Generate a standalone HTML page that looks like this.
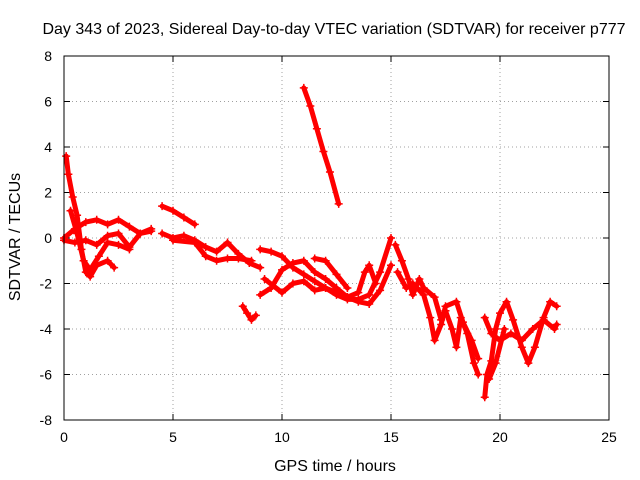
<!DOCTYPE html>
<html><head><meta charset="utf-8"><style>
body{margin:0;background:#fff}
svg{display:block;font-family:"Liberation Sans",sans-serif;font-size:14px}
.big{font-size:16px}
</style></head><body>
<svg id="chart" width="640" height="480">
<text class="big" x="334" y="34" text-anchor="middle">Day 343 of 2023, Sidereal Day-to-day VTEC variation (SDTVAR) for receiver p777</text>
<text class="big" x="335" y="471" text-anchor="middle">GPS time / hours</text>
<text class="big" transform="translate(20,237) rotate(-90)" text-anchor="middle">SDTVAR / TECUs</text>
<g id="grid"></g><g id="ticks"></g><g id="marks"></g>
<rect x="64" y="56" width="545" height="364" fill="none" stroke="#000"/>
</svg>
<script>
const xTicks=[0,5,10,15,20,25];
const yTicks=[-8,-6,-4,-2,0,2,4,6,8];
const traceSteep=[[11.0,6.6],[11.3,5.8],[11.6,4.8],[11.9,3.8],[12.2,2.9],[12.6,1.5]];
const traceShort=[[4.5,1.4],[5,1.2],[5.5,0.9],[6,0.6]];
const traceDip=[[8.2,-3.0],[8.4,-3.3],[8.6,-3.6],[8.8,-3.4]];
const traceSpike=[[0.1,3.6],[0.2,2.8],[0.4,1.8],[0.6,1.0],[0.8,-0.5],[1.0,-1.5],[1.2,-1.7],[1.5,-1.2],[2.0,-1.0],[2.3,-1.3]];
const traceA=[[0,0],[0.5,0.4],[1.0,0.7],[1.5,0.8],[2.0,0.6],[2.5,0.8],[3.0,0.5],[3.5,0.2],[4.0,0.4]];
const traceB=[[0,-0.1],[0.5,-0.2],[1,-0.1],[1.5,-0.3],[2,0.1],[2.5,0.2],[3,-0.4],[3.5,0.2],[4,0.3]];
const traceC=[[0.3,1.2],[0.6,0.2],[0.9,-1.0],[1.2,-1.4],[1.6,-0.8],[2.0,-0.2],[2.5,-0.3],[3,-0.5]];
const traceD=[[4.5,0.2],[5,0],[5.5,0.1],[6,-0.1],[6.5,-0.4],[7,-0.6],[7.5,-0.2],[8,-0.7],[8.5,-1.1],[9,-1.3]];
const traceE=[[5,-0.1],[6,-0.2],[6.5,-0.8],[7,-1.0],[7.5,-0.9],[8,-0.9],[8.6,-1.0]];
const traceF=[[9,-0.5],[9.5,-0.6],[10,-0.8],[10.5,-1.3],[11,-1.6],[11.5,-1.9],[12,-2.2],[12.5,-2.5],[13,-2.7],[13.5,-2.7],[14,-2.5],[14.5,-1.5],[15,0]];
const traceG=[[9,-2.5],[9.5,-2.2],[10,-1.4],[10.5,-1.1],[11,-1.0],[11.5,-1.5],[12,-1.8],[12.5,-2.2],[13,-2.6],[13.5,-2.4],[13.8,-1.5],[14,-1.2],[14.3,-2.0]];
const traceH=[[9.2,-1.8],[10,-2.4],[10.5,-2.0],[11,-1.9],[11.5,-2.3],[12,-2.2],[12.5,-2.4],[13,-2.6],[13.5,-2.8],[14,-2.9],[14.5,-2.3],[15,-1.2]];
const traceI=[[11.5,-0.9],[12,-1.0],[12.5,-1.6],[13,-2.2]];
const traceJ=[[15.2,-0.3],[15.5,-1.0],[15.8,-1.8],[16,-2.5],[16.3,-1.8],[16.5,-2.2],[17,-2.6],[17.3,-3.6],[17.5,-3.2],[17.8,-4.0],[18.0,-4.8],[18.2,-3.5],[18.5,-4.2],[18.8,-5.5],[19.0,-6.0]];
const traceK=[[15.3,-1.5],[15.7,-2.2],[16,-2.0],[16.5,-2.5],[16.8,-3.5],[17,-4.5],[17.3,-3.8],[17.5,-3.0],[18,-2.8],[18.3,-3.7],[18.7,-4.5],[19.0,-5.3]];
const traceL=[[19.3,-7.0],[19.4,-6.0],[19.6,-5.4],[19.8,-4.0],[20,-3.3],[20.3,-2.8],[20.6,-3.6],[21,-4.8],[21.3,-5.5],[21.6,-4.8],[22,-3.5],[22.3,-2.8],[22.6,-3.0]];
const traceM=[[19.3,-3.5],[19.6,-4.2],[20,-4.5],[20.5,-4.2],[21,-4.5],[21.5,-4.0],[22,-3.6],[22.5,-4.0],[22.6,-3.8]];
const traceN=[[19.5,-6.2],[19.8,-5.5],[20.2,-4.0]];
const traces=[traceSteep,traceShort,traceDip,traceSpike,traceA,traceB,traceC,traceD,traceE,traceF,traceG,traceH,traceI,traceJ,traceK,traceL,traceM,traceN];
const NS="http://www.w3.org/2000/svg";
const X0=64,X1=609,Y0=420,Y1=56;
function sx(v){return X0+(v-0)/(25-0)*(X1-X0);}
function sy(v){return Y0-(v+8)/16*(Y0-Y1);}
const grid=document.getElementById('grid'),ticks=document.getElementById('ticks'),marks=document.getElementById('marks');
function mk(tag,attrs,parent){const e=document.createElementNS(NS,tag);for(const k in attrs)e.setAttribute(k,attrs[k]);parent.appendChild(e);return e;}
xTicks.forEach(t=>{const x=sx(t);
 if(t>0&&t<25){const g=mk('line',{x1:x,x2:x,y1:Y1,y2:Y0,stroke:'#a0a0a0','stroke-dasharray':'1,3'},grid);
 
 }
 mk('line',{x1:x,x2:x,y1:Y0,y2:Y0-6,stroke:'#000'},ticks);
 mk('line',{x1:x,x2:x,y1:Y1,y2:Y1+6,stroke:'#000'},ticks);
 const l=mk('text',{x:x,y:Y0+22,'text-anchor':'middle'},ticks);l.textContent=t;
 
 });
yTicks.forEach(t=>{const y=sy(t);
 if(t>-8&&t<8){const g=mk('line',{x1:X0,x2:X1,y1:y,y2:y,stroke:'#a0a0a0','stroke-dasharray':'1,3'},grid);
 
 }
 mk('line',{x1:X0,x2:X0+6,y1:y,y2:y,stroke:'#000'},ticks);
 mk('line',{x1:X1,x2:X1-6,y1:y,y2:y,stroke:'#000'},ticks);
 const l=mk('text',{x:X0-12,y:y+5,'text-anchor':'end'},ticks);l.textContent=t;
 
 });
traces.forEach(tr=>{
 const p=mk('polyline',{points:tr.map(d=>sx(d[0])+','+sy(d[1])).join(' '),fill:'none',stroke:'#ff0000','stroke-width':5,'stroke-linejoin':'round','stroke-linecap':'round'},marks);
 
 
 tr.forEach(d=>{const x=sx(d[0]),y=sy(d[1]);
  const m=mk('path',{d:`M${x-4},${y}H${x+4}M${x},${y-4}V${y+4}`,stroke:'#ff0000','stroke-width':1.5},marks);
  
  });
});
</script>
</body></html>
